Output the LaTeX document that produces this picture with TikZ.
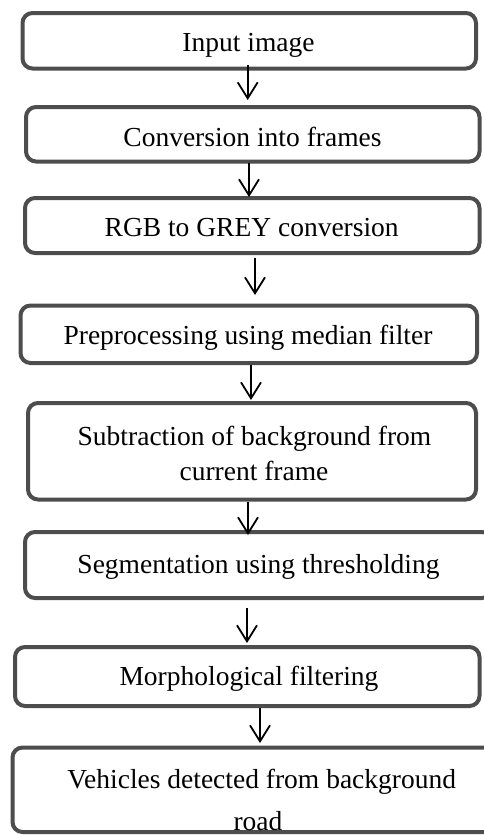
\documentclass[tikz,border=0pt]{standalone}
\usepackage{fontspec}
\setmainfont{Liberation Serif}
\usetikzlibrary{arrows.meta}
\definecolor{boxgray}{HTML}{4D4D4D}
\begin{document}
\begin{tikzpicture}[x=1pt,y=-1pt,
  flowbox/.style={draw=boxgray, line width=4pt, rounded corners=10pt, fill=white,
    inner sep=0pt, outer sep=0pt},
  lbl/.style={anchor=base, inner sep=0pt, font=\fontsize{27.5}{34}\selectfont},
  arr/.style={draw=black, line width=1.8pt, -{Straight Barb[length=16pt,width=20pt]}}]
\useasboundingbox (0,0) rectangle (484,835);
\clip (0,0) rectangle (484,835);
% boxes
\node[flowbox, minimum width=453.5pt, minimum height=55.5pt] (n1) at (249.25,40.75) {};
\node[flowbox, minimum width=453.5pt, minimum height=54.5pt] (n2) at (252.75,134.25) {};
\node[flowbox, minimum width=454.5pt, minimum height=55pt] (n3) at (252.25,225.5) {};
\node[flowbox, minimum width=456.5pt, minimum height=57.5pt] (n4) at (248.75,334.25) {};
\node[flowbox, minimum width=448pt, minimum height=96.5pt] (n5) at (252,451.25) {};
\node[flowbox, minimum width=467pt, minimum height=66pt] (n6) at (258.5,565) {};
\node[flowbox, minimum width=464.5pt, minimum height=59pt] (n7) at (247.25,676.5) {};
\node[flowbox, minimum width=482.5pt, minimum height=84.5pt] (n8) at (253.75,789.75) {};
% texts
\begin{scope}
\clip (0,0) rectangle (484,56);
\node[lbl] (t1) at (248.5,51.7) {Input image};
\end{scope}
\node[lbl] (t2) at (252.5,146) {Conversion into frames};
\node[lbl] (t3) at (251.7,236.7) {RGB to GREY conversion};
\node[lbl] (t4) at (248,344) {Preprocessing using median filter};
\node[lbl] (t5a) at (254.5,445.5) {Subtraction of background from};
\node[lbl] (t5b) at (254,480) {current frame};
\node[lbl] (t6) at (258.5,573) {Segmentation using thresholding};
\node[lbl] (t7) at (249,685) {Morphological filtering};
\node[lbl] (t8a) at (261.7,788) {Vehicles detected from background};
\node[lbl] (t8b) at (258,830) {road};
% connectors
\draw[arr] ([xshift=-1.55pt,yshift=3.5pt]n1.south) -- ([xshift=-5.05pt,yshift=7pt]n2.north);
\draw[arr] ([xshift=-3.75pt,yshift=-1.5pt]n2.south) -- ([xshift=-3.25pt,yshift=1pt]n3.north);
\draw[arr] ([xshift=2.75pt,yshift=-5pt]n3.south) -- ([xshift=6.25pt,yshift=10.5pt]n4.north);
\draw[arr] ([xshift=2.25pt,yshift=-2pt]n4.south) -- ([xshift=-1pt,yshift=3pt]n5.north);
\draw[arr] ([xshift=-4pt,yshift=-2.5pt]n5.south) -- ([xshift=-10.5pt,yshift=-3pt]n6.north);
\draw[arr] ([xshift=-11.5pt,yshift=-10pt]n6.south) -- ([xshift=-0.25pt,yshift=4pt]n7.north);
\draw[arr] ([xshift=12.75pt,yshift=-2pt]n7.south) -- ([xshift=6.25pt,yshift=4.5pt]n8.north);
\end{tikzpicture}
\end{document}
